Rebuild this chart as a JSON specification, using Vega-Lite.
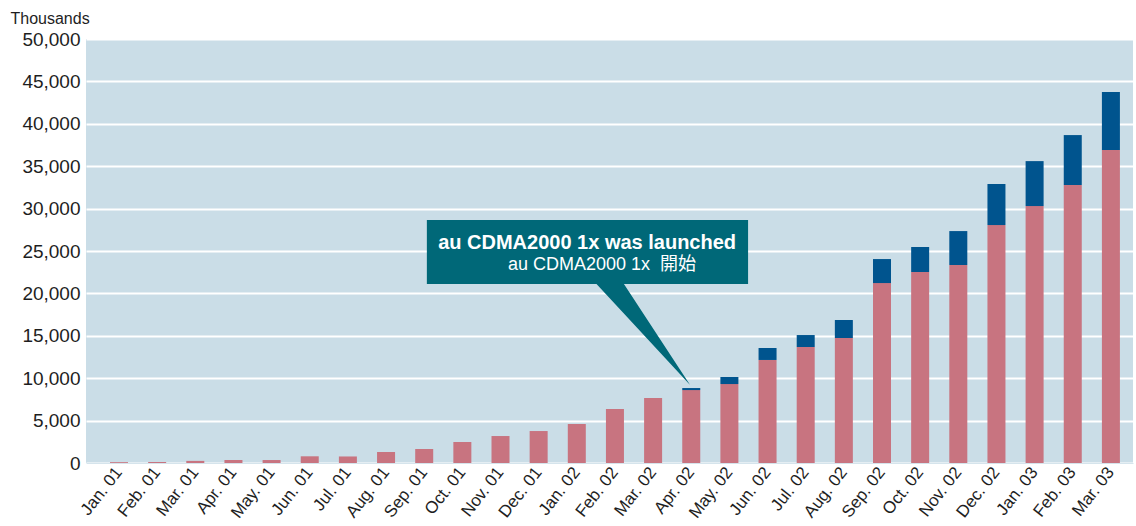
{
  "$schema": "https://vega.github.io/schema/vega-lite/v6.json",
  "width": 1047,
  "height": 424,
  "autosize": "none",
  "padding": {"left": 86, "top": 39, "right": 3, "bottom": 63},
  "background": "#ffffff",
  "config": {
    "view": {"fill": "#cadde7", "stroke": null},
    "font": "Liberation Sans, Noto Sans CJK JP"
  },
  "datasets": {
    "bars": [
      {"month": "Jan. 01", "series": "cdmaOne", "ord": 1, "value": 100},
      {"month": "Feb. 01", "series": "cdmaOne", "ord": 1, "value": 120},
      {"month": "Mar. 01", "series": "cdmaOne", "ord": 1, "value": 250},
      {"month": "Apr. 01", "series": "cdmaOne", "ord": 1, "value": 350},
      {"month": "May. 01", "series": "cdmaOne", "ord": 1, "value": 350},
      {"month": "Jun. 01", "series": "cdmaOne", "ord": 1, "value": 790},
      {"month": "Jul. 01", "series": "cdmaOne", "ord": 1, "value": 770},
      {"month": "Aug. 01", "series": "cdmaOne", "ord": 1, "value": 1300},
      {"month": "Sep. 01", "series": "cdmaOne", "ord": 1, "value": 1650},
      {"month": "Oct. 01", "series": "cdmaOne", "ord": 1, "value": 2480},
      {"month": "Nov. 01", "series": "cdmaOne", "ord": 1, "value": 3180},
      {"month": "Dec. 01", "series": "cdmaOne", "ord": 1, "value": 3770},
      {"month": "Jan. 02", "series": "cdmaOne", "ord": 1, "value": 4600},
      {"month": "Feb. 02", "series": "cdmaOne", "ord": 1, "value": 6370},
      {"month": "Mar. 02", "series": "cdmaOne", "ord": 1, "value": 7660},
      {"month": "Apr. 02", "series": "cdmaOne", "ord": 1, "value": 8600},
      {"month": "May. 02", "series": "cdmaOne", "ord": 1, "value": 9310},
      {"month": "Jun. 02", "series": "cdmaOne", "ord": 1, "value": 12150},
      {"month": "Jul. 02", "series": "cdmaOne", "ord": 1, "value": 13680},
      {"month": "Aug. 02", "series": "cdmaOne", "ord": 1, "value": 14740},
      {"month": "Sep. 02", "series": "cdmaOne", "ord": 1, "value": 21220},
      {"month": "Oct. 02", "series": "cdmaOne", "ord": 1, "value": 22520},
      {"month": "Nov. 02", "series": "cdmaOne", "ord": 1, "value": 23350},
      {"month": "Dec. 02", "series": "cdmaOne", "ord": 1, "value": 28060},
      {"month": "Jan. 03", "series": "cdmaOne", "ord": 1, "value": 30300},
      {"month": "Feb. 03", "series": "cdmaOne", "ord": 1, "value": 32780},
      {"month": "Mar. 03", "series": "cdmaOne", "ord": 1, "value": 36900},
      {"month": "Apr. 02", "series": "CDMA2000 1x", "ord": 2, "value": 240},
      {"month": "May. 02", "series": "CDMA2000 1x", "ord": 2, "value": 830},
      {"month": "Jun. 02", "series": "CDMA2000 1x", "ord": 2, "value": 1410},
      {"month": "Jul. 02", "series": "CDMA2000 1x", "ord": 2, "value": 1410},
      {"month": "Aug. 02", "series": "CDMA2000 1x", "ord": 2, "value": 2120},
      {"month": "Sep. 02", "series": "CDMA2000 1x", "ord": 2, "value": 2830},
      {"month": "Oct. 02", "series": "CDMA2000 1x", "ord": 2, "value": 2950},
      {"month": "Nov. 02", "series": "CDMA2000 1x", "ord": 2, "value": 4000},
      {"month": "Dec. 02", "series": "CDMA2000 1x", "ord": 2, "value": 4840},
      {"month": "Jan. 03", "series": "CDMA2000 1x", "ord": 2, "value": 5300},
      {"month": "Feb. 03", "series": "CDMA2000 1x", "ord": 2, "value": 5890},
      {"month": "Mar. 03", "series": "CDMA2000 1x", "ord": 2, "value": 6840}
    ],
    "box": [{"x1": 8.07, "x2": 16.49, "y1": 21108, "y2": 28656}],
    "pointer": [
      {"px": 12.48, "top": 21300, "bot": 21300},
      {"px": 13.21, "top": 21300, "bot": 17754},
      {"px": 14.97, "top": 9198, "bot": 9198}
    ],
    "titleEn": [{"tx": 12.27, "ty": 25230, "text": "au CDMA2000 1x was launched"}],
    "titleJa": [{"tx": 12.66, "ty": 22755, "text": "au CDMA2000 1x \u00a0開始"}]
  },
  "resolve": {"scale": {"x": "independent"}, "axis": {"x": "independent"}},
  "layer": [
    {
      "data": {"name": "bars"},
      "mark": {"type": "bar"},
      "encoding": {
        "x": {
          "field": "month",
          "type": "nominal",
          "sort": null,
          "scale": {"paddingInner": 0.528, "paddingOuter": 0.486, "align": 0.647},
          "axis": {
            "title": null,
            "labelAngle": -52,
            "labelAlign": "right",
            "labelBaseline": "middle",
            "labelFontSize": 17,
            "labelColor": "#1e1e1e",
            "labelPadding": 6,
            "ticks": false,
            "domain": true,
            "domainColor": "#d5e4ec",
            "domainWidth": 1,
            "grid": false
          }
        },
        "y": {
          "field": "value",
          "type": "quantitative",
          "stack": "zero",
          "scale": {"domain": [0, 50000], "nice": false},
          "axis": {
            "values": [0, 5000, 10000, 15000, 20000, 25000, 30000, 35000, 40000, 45000, 50000],
            "format": ",.0f",
            "labelFontSize": 19,
            "labelColor": "#1e1e1e",
            "labelPadding": 6,
            "ticks": false,
            "domain": false,
            "grid": true,
            "gridColor": "#ffffff",
            "gridWidth": 2,
            "title": "Thousands",
            "titleAngle": 0,
            "titleAlign": "left",
            "titleBaseline": "alphabetic",
            "titleX": -76,
            "titleY": -16,
            "titleFontSize": 16,
            "titleFontWeight": "normal",
            "titleColor": "#1e1e1e"
          }
        },
        "color": {
          "field": "series",
          "type": "nominal",
          "scale": {"domain": ["cdmaOne", "CDMA2000 1x"], "range": ["#c87480", "#00548e"]},
          "legend": null
        },
        "order": {"field": "ord", "type": "quantitative", "sort": "ascending"}
      }
    },
    {
      "data": {"name": "pointer"},
      "mark": {"type": "area", "orient": "vertical", "color": "#006878", "interpolate": "linear"},
      "encoding": {
        "x": {"field": "px", "type": "quantitative", "scale": {"domain": [-0.865, 26.58], "nice": false, "zero": false}, "axis": null},
        "y": {"field": "top", "type": "quantitative"},
        "y2": {"field": "bot"}
      }
    },
    {
      "data": {"name": "box"},
      "mark": {"type": "rect", "color": "#006878"},
      "encoding": {
        "x": {"field": "x1", "type": "quantitative", "scale": {"domain": [-0.865, 26.58], "nice": false, "zero": false}, "axis": null},
        "x2": {"field": "x2"},
        "y": {"field": "y1", "type": "quantitative"},
        "y2": {"field": "y2"}
      }
    },
    {
      "data": {"name": "titleEn"},
      "mark": {"type": "text", "color": "#ffffff", "align": "center", "baseline": "alphabetic", "fontSize": 20, "fontWeight": "bold"},
      "encoding": {
        "x": {"field": "tx", "type": "quantitative", "scale": {"domain": [-0.865, 26.58], "nice": false, "zero": false}, "axis": null},
        "y": {"field": "ty", "type": "quantitative"},
        "text": {"field": "text"}
      }
    },
    {
      "data": {"name": "titleJa"},
      "mark": {"type": "text", "color": "#ffffff", "align": "center", "baseline": "alphabetic", "fontSize": 18, "fontWeight": "normal"},
      "encoding": {
        "x": {"field": "tx", "type": "quantitative", "scale": {"domain": [-0.865, 26.58], "nice": false, "zero": false}, "axis": null},
        "y": {"field": "ty", "type": "quantitative"},
        "text": {"field": "text"}
      }
    }
  ]
}
